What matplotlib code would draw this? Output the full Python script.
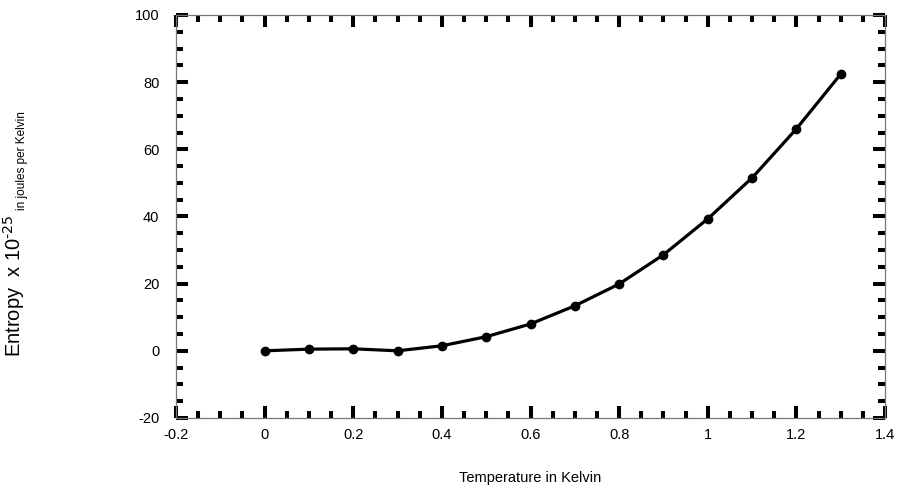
import matplotlib
matplotlib.use("Agg")
import matplotlib.pyplot as plt
from matplotlib.ticker import MultipleLocator

plt.rcParams['font.family'] = ['Liberation Sans', 'DejaVu Sans']

temperature = [0.0, 0.1, 0.2, 0.3, 0.4, 0.5, 0.6, 0.7, 0.8, 0.9, 1.0, 1.1, 1.2, 1.3]
entropy = [0.0, 0.5, 0.6, 0.0, 1.5, 4.2, 8.0, 13.4, 19.9, 28.6, 39.3, 51.5, 66.1, 82.4]

xlim = (-0.2, 1.4)
ylim = (-20, 100)

fig = plt.figure(figsize=(9.07, 4.91), dpi=100)
ax = fig.add_axes([0.194, 0.1487, 0.7818, 0.8208])

ax.plot(temperature, entropy, color='black', linewidth=2.3, marker='o',
        markersize=6, markerfacecolor='black', markeredgecolor='black')

ax.set_xlim(*xlim)
ax.set_ylim(*ylim)
ax.xaxis.set_major_locator(MultipleLocator(0.2))
ax.xaxis.set_minor_locator(MultipleLocator(0.05))
ax.yaxis.set_major_locator(MultipleLocator(20))
ax.yaxis.set_minor_locator(MultipleLocator(5))

def fmt(v, pos):
    s = f"{v:.1f}".rstrip('0').rstrip('.')
    if s in ('-0', ''):
        s = '0'
    return s
ax.xaxis.set_major_formatter(plt.FuncFormatter(fmt))
ax.yaxis.set_major_formatter(plt.FuncFormatter(lambda v, p: f"{int(round(v))}"))

ax.tick_params(which='both', direction='in', top=True, right=True, color='black')
ax.tick_params(which='major', length=8.6, width=2.9, labelsize=10.5)
ax.tick_params(which='minor', length=5, width=2.9)
ax.tick_params(axis='x', which='major', pad=7)
ax.tick_params(axis='y', which='major', pad=12)

for sp in ax.spines.values():
    sp.set_color('#777777')
    sp.set_linewidth(0.9)

ax.set_xlabel('Temperature in Kelvin', fontsize=10.5, labelpad=21)

fig.text(14 / 907, 1 - 357 / 491, r'Entropy  x 10$^{\text{-25}}$', rotation=90,
         fontsize=14.5, ha='center', va='bottom')
fig.text(22 / 907, 1 - 210 / 491, 'in joules per Kelvin', rotation=90,
         fontsize=8.5, ha='center', va='bottom')

fig.savefig('out.png', dpi=100)
